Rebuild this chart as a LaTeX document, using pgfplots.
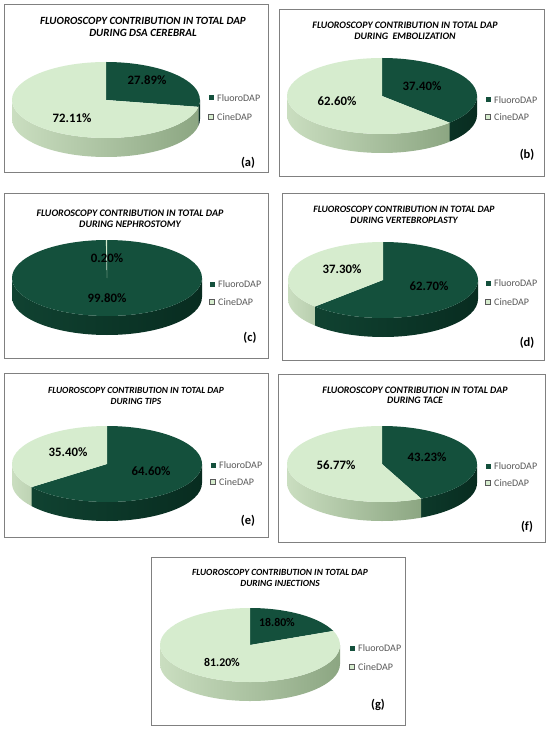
\documentclass[border=0pt]{standalone}
\usepackage{pgfplots}
\pgfplotsset{compat=1.18}
\usepackage{fontspec}
\setmainfont{Carlito}
\definecolor{fdtop}{RGB}{20,80,60}
\definecolor{fdsideL}{RGB}{16,66,49}
\definecolor{fdsideR}{RGB}{8,44,32}
\definecolor{cdtop}{RGB}{214,236,206}
\definecolor{cdsideL}{RGB}{202,222,192}
\definecolor{cdsideR}{RGB}{140,166,130}
\definecolor{boxgray}{RGB}{128,128,128}
\definecolor{legtext}{RGB}{89,89,89}
\pgfplotsset{panel/.style={hide axis, x=1pt, y=1pt, xmin=0, xmax=550, ymin=0, ymax=729,
  y dir=reverse, clip=false, at={(0pt,0pt)}, anchor=south west}}
% #1 cx, #2 cy, #3 fluoro percent, #4 rx, #5 ry
\newcommand{\drawpie}[5]{%
  \pgfmathsetmacro\s{90-3.6*#3}%
  \pgfmathsetmacro\fa{min(max(\s,-180),0)}%
  \pgfmathsetmacro\cb{max(min(\s,0),-180)}%
  \pgfmathsetmacro\ce{\s+360}%
  \pgfmathtruncatemacro\hasF{\s<0 ? 1 : 0}%
  \pgfmathtruncatemacro\hasC{\s>-180 ? 1 : 0}%
  \ifnum\hasF=1
    \shade[left color=fdsideL,right color=fdsideR] (axis cs:#1,#2) ++(\fa:#4pt and #5pt)
      arc[start angle=\fa,end angle=0,x radius=#4pt,y radius=#5pt] -- ++(0pt,-19pt)
      arc[start angle=0,end angle=\fa,x radius=#4pt,y radius=#5pt] -- cycle;
  \fi
  \ifnum\hasC=1
    \shade[left color=cdsideL,right color=cdsideR] (axis cs:#1,#2) ++(-180:#4pt and #5pt)
      arc[start angle=-180,end angle=\cb,x radius=#4pt,y radius=#5pt] -- ++(0pt,-19pt)
      arc[start angle=\cb,end angle=-180,x radius=#4pt,y radius=#5pt] -- cycle;
  \fi
  \fill[fdtop] (axis cs:#1,#2) -- ++(\s:#4pt and #5pt)
      arc[start angle=\s,end angle=90,x radius=#4pt,y radius=#5pt] -- cycle;
  \fill[cdtop] (axis cs:#1,#2) -- ++(90:#4pt and #5pt)
      arc[start angle=90,end angle=\ce,x radius=#4pt,y radius=#5pt] -- cycle;
}
% #1 marker x, #2 text x, #3 y1, #4 y2
\newcommand{\pielegend}[4]{%
  \fill[fdtop] (axis cs:#1-2.5,#3-2.5) rectangle (axis cs:#1+2.5,#3+2.5);
  \filldraw[fill=cdtop,draw=gray!70!black,line width=0.4pt] (axis cs:#1-2.5,#4-2.5) rectangle (axis cs:#1+2.5,#4+2.5);
  \node[anchor=west,inner sep=0pt,text=legtext,font=\fontsize{10}{12}\selectfont] at (axis cs:#2,#3) {FluoroDAP};
  \node[anchor=west,inner sep=0pt,text=legtext,font=\fontsize{10}{12}\selectfont] at (axis cs:#2,#4) {CineDAP};
}
% #1 size, #2 x, #3 y1, #4 y2, #5 line1, #6 line2
\newcommand{\pietitle}[6]{%
  \node[inner sep=0pt,font=\fontsize{#1}{#1}\selectfont\bfseries\itshape] at (axis cs:#2,#3) {#5};
  \node[inner sep=0pt,font=\fontsize{#1}{#1}\selectfont\bfseries\itshape] at (axis cs:#2,#4) {#6};
}
\newcommand{\pct}[4][12.8]{%
  \node[inner sep=0pt,font=\fontsize{#1}{#1}\selectfont\bfseries] at (axis cs:#2,#3) {#4};
}
\newcommand{\plabel}[3]{%
  \node[inner sep=0pt,font=\fontsize{12.5}{12.5}\selectfont\bfseries] at (axis cs:#1,#2) {#3};
}
\begin{document}
\begin{tikzpicture}
\useasboundingbox (0pt,0pt) rectangle (550pt,729pt);
\fill[white] (0pt,0pt) rectangle (550pt,729pt);
% (a)
\begin{axis}[panel]
  \draw[boxgray,line width=0.8pt] (axis cs:4,4) rectangle (axis cs:268,172);
  \pietitle{11}{143}{21}{33}{FLUOROSCOPY CONTRIBUTION IN TOTAL DAP}{DURING DSA CEREBRAL}
  \drawpie{106}{100}{27.89}{94}{38}
  \pct{147}{80}{27.89\%}
  \pct{72}{118}{72.11\%}
  \pielegend{211}{217}{98}{117}
  \plabel{248}{163}{(a)}
\end{axis}
% (b)
\begin{axis}[panel]
  \draw[boxgray,line width=0.8pt] (axis cs:279,9) rectangle (axis cs:544,176);
  \pietitle{9.9}{405}{25}{36}{FLUOROSCOPY CONTRIBUTION IN TOTAL DAP}{DURING~ EMBOLIZATION}
  \drawpie{382}{96}{37.40}{95}{38}
  \pct{422}{86}{37.40\%}
  \pct{337}{101}{62.60\%}
  \pielegend{488}{494}{100}{117}
  \plabel{527}{155}{(b)}
\end{axis}
% (c)
\begin{axis}[panel]
  \draw[boxgray,line width=0.8pt] (axis cs:4,193) rectangle (axis cs:268,358);
  \pietitle{10}{130}{213}{224}{FLUOROSCOPY CONTRIBUTION IN TOTAL DAP}{DURING NEPHROSTOMY}
  \drawpie{107}{278}{99.80}{95}{38}
  \pct{107}{258}{0.20\%}
  \pct{107}{298}{99.80\%}
  \pielegend{212}{218}{284}{302}
  \plabel{250}{338}{(c)}
\end{axis}
% (d)
\begin{axis}[panel]
  \draw[boxgray,line width=0.8pt] (axis cs:282,193) rectangle (axis cs:544,360);
  \pietitle{9.7}{404}{209}{220}{FLUOROSCOPY CONTRIBUTION IN TOTAL DAP}{DURING VERTEBROPLASTY}
  \drawpie{383}{280}{62.70}{95}{38}
  \pct{342}{269}{37.30\%}
  \pct{429}{286}{62.70\%}
  \pielegend{488}{494}{283}{302}
  \plabel{527}{343}{(d)}
\end{axis}
% (e)
\begin{axis}[panel]
  \draw[boxgray,line width=0.8pt] (axis cs:4,373) rectangle (axis cs:268,537);
  \pietitle{9.4}{136}{390}{401}{FLUOROSCOPY CONTRIBUTION IN TOTAL DAP}{DURING TIPS}
  \drawpie{107}{464}{64.60}{95}{38}
  \pct{68}{452}{35.40\%}
  \pct{151}{471}{64.60\%}
  \pielegend{213}{219}{465}{482}
  \plabel{248}{521}{(e)}
\end{axis}
% (f)
\begin{axis}[panel]
  \draw[boxgray,line width=0.8pt] (axis cs:278,374) rectangle (axis cs:545,542);
  \pietitle{9.9}{415}{390}{400}{FLUOROSCOPY CONTRIBUTION IN TOTAL DAP}{DURING TACE}
  \drawpie{382}{464}{43.23}{95}{38}
  \pct{427}{457}{43.23\%}
  \pct{336}{465}{56.77\%}
  \pielegend{488}{494}{466}{483}
  \plabel{527}{527}{(f)}
\end{axis}
% (g)
\begin{axis}[panel]
  \draw[boxgray,line width=0.8pt] (axis cs:151,557) rectangle (axis cs:405,725);
  \pietitle{9.4}{280}{572}{583}{FLUOROSCOPY CONTRIBUTION IN TOTAL DAP}{DURING INJECTIONS}
  \drawpie{250}{645}{18.80}{90}{37}
  \pct[11.8]{277}{622}{18.80\%}
  \pct[11.8]{222}{662}{81.20\%}
  \pielegend{352}{358}{648}{667}
  \plabel{378}{705}{(g)}
\end{axis}
\end{tikzpicture}
\end{document}
